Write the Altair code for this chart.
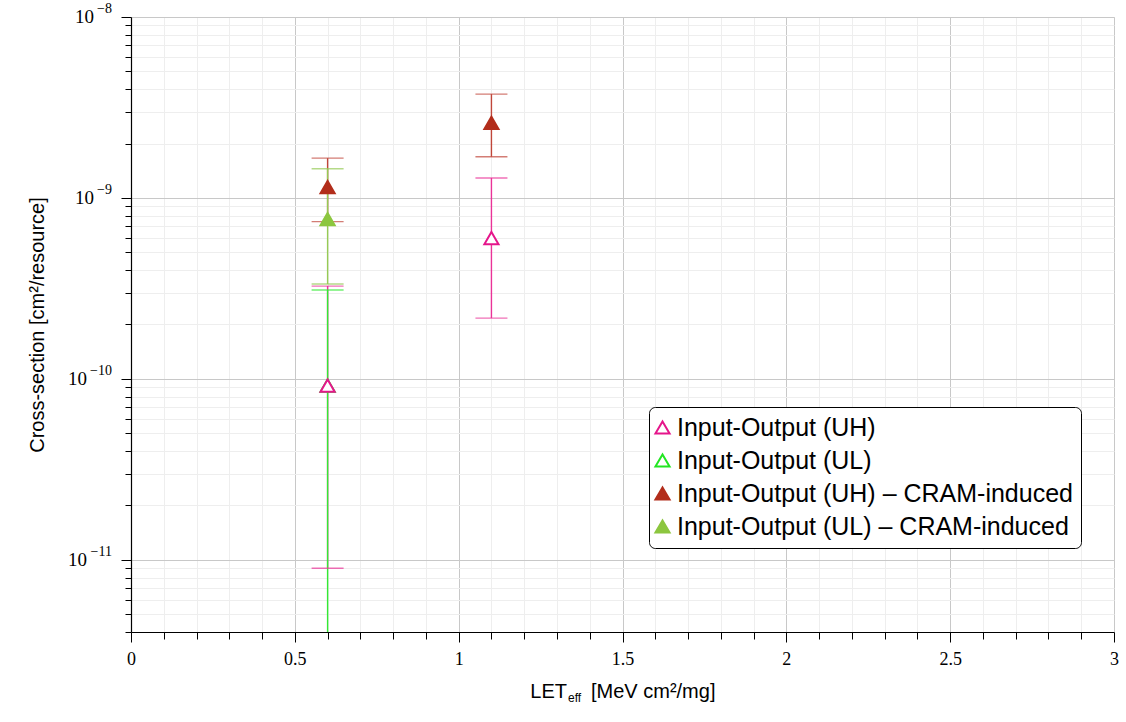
import altair as alt
import pandas as pd

# Series names, colours (stroke / fill) as shown in the legend
SERIES = [
    "Input-Output (UH)",
    "Input-Output (UL)",
    "Input-Output (UH) – CRAM-induced",
    "Input-Output (UL) – CRAM-induced",
]
STROKE = ["#e5168b", "#22e622", "#b22d1b", "#8cc63f"]
FILL = ["white", "white", "#b22d1b", "#8cc63f"]
BAR_COLOR = ["#ea3398", "#33ea33", "#c0463a", "#96cb55"]

# Measured cross-sections with lower / upper confidence limits
pt_series = [SERIES[0], SERIES[0], SERIES[1], SERIES[2], SERIES[2], SERIES[3]]
pt_let = [0.6, 1.1, 0.6, 0.6, 1.1, 0.6]
pt_sigma = [9.2e-11, 6.0e-10, 9.2e-11, 1.15e-9, 2.6e-9, 7.65e-10]
pt_lo = [9.0e-12, 2.17e-10, 2.0e-12, 7.4e-10, 1.69e-9, 3.35e-10]
pt_hi = [3.26e-10, 1.29e-9, 3.1e-10, 1.66e-9, 3.75e-9, 1.45e-9]

# marker stacking: UL under UH, CRAM-induced on top
MARKER_LAYER = {SERIES[1]: 0, SERIES[0]: 1, SERIES[2]: 2, SERIES[3]: 3}

# Axis ticks
X_TICKS = [round(i * 0.1, 1) for i in range(31)]
Y_TICKS = [m * 10.0 ** e for e in range(-12, -8) for m in range(1, 10)] + [1e-8]
Y_TICKS = [v for v in Y_TICKS if v >= 4e-12 * 0.999]
DECADES = [1e-8, 1e-9, 1e-10, 1e-11]
DECADE_EXP = ["−8", "−9", "−10", "−11"]

df = pd.DataFrame({
    "series": pt_series,
    "let": pt_let,
    "sigma": pt_sigma,
    "lo": pt_lo,
    "hi": pt_hi,
})
df["layer"] = df["series"].map(MARKER_LAYER)

dec_df = pd.DataFrame({"decade": DECADES, "exp": DECADE_EXP})
dec_df["wide"] = dec_df["exp"].str.len() > 2

Y_MAJOR = "abs(log(datum.value)/LN10 - round(log(datum.value)/LN10)) < 0.001"
X_MAJOR = "abs(datum.value*2 - round(datum.value*2)) < 0.001"

x_scale = alt.Scale(domain=[0, 3], nice=False, zero=False)
y_scale = alt.Scale(type="log", domain=[4e-12, 1e-8], nice=False)

x_axis = alt.Axis(
    values=X_TICKS, tickCount=31, title=None,
    labelExpr=f"({X_MAJOR}) ? format(datum.value, '~g') : ''",
    labelFont="Liberation Serif", labelFontSize=18, labelColor="black",
    labelPadding=8, labelFlush=False, labelOverlap=False, labelBound=False,
    tickColor="black", tickSize={"condition": {"test": X_MAJOR, "value": 10}, "value": 7},
    domainColor="black", domainWidth=1.2,
    gridColor={"condition": {"test": X_MAJOR, "value": "#c8c8c8"}, "value": "#eeeeee"},
    gridWidth=1,
)
y_axis = alt.Axis(
    values=Y_TICKS, title=None, labels=False,
    tickColor="black", tickSize={"condition": {"test": Y_MAJOR, "value": 10}, "value": 6},
    domainColor="black", domainWidth=1.2,
    gridColor={"condition": {"test": Y_MAJOR, "value": "#c8c8c8"}, "value": "#eeeeee"},
    gridWidth=1,
)

X = alt.X("let:Q", scale=x_scale, axis=x_axis)

base = alt.Chart(df)

# error-bar colours follow the sorted series order of the data-driven domain
bar_scale = alt.Scale(range=[BAR_COLOR[SERIES.index(s)] for s in sorted(SERIES)])
stroke_scale = alt.Scale(domain=SERIES, range=STROKE)
fill_scale = alt.Scale(domain=SERIES, range=FILL)

legend = alt.Legend(
    title=None, orient="none", legendX=518, legendY=390,
    symbolType="triangle-up", symbolSize=200, symbolStrokeWidth=2,
    labelFont="Liberation Sans", labelFontSize=25, labelColor="black", labelLimit=600,
    symbolOffset=alt.ExprRef("-7"), labelOffset=2, rowPadding=7, padding=8,
    strokeColor="black", fillColor="white", cornerRadius=6,
)

bars = base.mark_rule(strokeWidth=1.4, clip=True).encode(
    x=X,
    y=alt.Y("lo:Q", scale=y_scale, axis=y_axis),
    y2="hi:Q",
    color=alt.Color("series:N", scale=bar_scale, legend=None),
)

caps = base.transform_fold(["lo", "hi"], as_=["end", "bound"]).mark_tick(
    orient="horizontal", size=32, thickness=1.4, clip=True
).encode(
    x=X,
    y=alt.Y("bound:Q", scale=y_scale, axis=y_axis),
    color=alt.Color("series:N", scale=bar_scale, legend=None),
)

markers = base.mark_point(shape="triangle-up", filled=True, size=200, strokeWidth=2, opacity=1).encode(
    x=X,
    y=alt.Y("sigma:Q", scale=y_scale, axis=y_axis),
    stroke=alt.Stroke("series:N", scale=stroke_scale, legend=legend),
    fill=alt.Fill("series:N", scale=fill_scale, legend=legend),
    order="layer:Q",
)

# y tick labels: "10" with a raised exponent
dec = alt.Chart(dec_df)
label_font = dict(font="Liberation Serif", color="black", baseline="middle")
exp_text = dec.mark_text(align="right", fontSize=14, dy=-8, **label_font).encode(
    x=alt.value(-19), y=alt.Y("decade:Q", scale=y_scale, axis=y_axis), text="exp:N"
)
base_narrow = dec.transform_filter("!datum.wide").mark_text(align="right", fontSize=19, **label_font).encode(
    x=alt.value(-37), y=alt.Y("decade:Q", scale=y_scale, axis=y_axis), text=alt.value("10")
)
base_wide = dec.transform_filter("datum.wide").mark_text(align="right", fontSize=19, **label_font).encode(
    x=alt.value(-44), y=alt.Y("decade:Q", scale=y_scale, axis=y_axis), text=alt.value("10")
)

y_title = alt.Chart(pd.DataFrame({"t": ["Cross-section [cm²/resource]"]})).mark_text(
    angle=270, font="Liberation Sans", fontSize=20, color="black", align="center", baseline="middle"
).encode(x=alt.value(-93), y=alt.value(308), text="t:N")

x_title_main = alt.Chart(pd.DataFrame({"t": ["LET"]})).mark_text(
    font="Liberation Sans", fontSize=20, color="black", align="right", baseline="middle"
).encode(x=alt.value(436), y=alt.value(675), text="t:N")
x_title_sub = alt.Chart(pd.DataFrame({"t": ["eff"]})).mark_text(
    font="Liberation Sans", fontSize=12, color="black", align="left", baseline="middle"
).encode(x=alt.value(437), y=alt.value(681), text="t:N")
x_title_unit = alt.Chart(pd.DataFrame({"t": ["[MeV cm²/mg]"]})).mark_text(
    font="Liberation Sans", fontSize=20, color="black", align="left", baseline="middle"
).encode(x=alt.value(460), y=alt.value(675), text="t:N")

chart = alt.layer(
    bars, caps, markers, exp_text, base_narrow, base_wide,
    y_title, x_title_main, x_title_sub, x_title_unit
).properties(
    width=983, height=615,
    padding={"left": 131, "top": 17, "right": 12, "bottom": 90},
    autosize="none",
).configure_view(stroke="#c0c0c0", strokeWidth=1).configure(background="white")

chart.save("out.html", embed_options={"renderer": "svg", "actions": False})
